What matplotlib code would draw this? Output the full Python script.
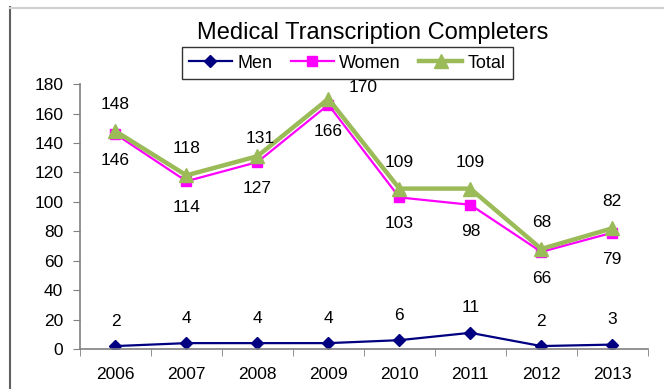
import matplotlib.pyplot as plt
from matplotlib.lines import Line2D
import numpy as np

plt.rcParams["font.family"] = ["Liberation Sans", "DejaVu Sans"]

# Data
years = ["2006", "2007", "2008", "2009", "2010", "2011", "2012", "2013"]
men = [2, 4, 4, 4, 6, 11, 2, 3]
women = [146, 114, 127, 166, 103, 98, 66, 79]
total = [148, 118, 131, 170, 109, 109, 68, 82]

x = np.arange(len(years))

fig = plt.figure(figsize=(6.64, 3.89), dpi=100)
ax = fig.add_axes([0.1205, 0.1028, 0.855, 0.681])

ax.plot(x, men, color="#000080", marker="D", markersize=6, linewidth=1.6, label="Men")
ax.plot(x, women, color="#FF00FF", marker="s", markersize=6.5, linewidth=1.6, label="Women")
ax.plot(x, total, color="#9BBB59", marker="^", markersize=10, linewidth=3.2, label="Total")

# value labels (offsets in points)
lab = dict(ha="center", va="center", fontsize=12.5, textcoords="offset points")
for i, v in enumerate(men):
    ax.annotate(str(v), (x[i], v), xytext=(0, 18), **lab)
for i, v in enumerate(women):
    ax.annotate(str(v), (x[i], v), xytext=(0, -19), **lab)
for i, v in enumerate(total):
    off = (0, 19)
    if years[i] == "2008":
        off = (2, 13)
    if years[i] == "2009":
        off = (25, 8)
    ax.annotate(str(v), (x[i], v), xytext=off, **lab)

ax.set_xlim(-0.5, len(years) - 0.5)
ax.set_ylim(0, 180)
ax.set_yticks(np.arange(0, 181, 20))
ax.set_xticks(x)
ax.set_xticklabels(years)
ax.set_xticks(np.arange(-0.5, len(years)), minor=True)
ax.tick_params(axis="x", which="major", length=0, pad=13, labelsize=12.5)
ax.tick_params(axis="x", which="minor", length=5, color="#808080", direction="out")
ax.tick_params(axis="y", length=5, pad=7, color="#808080", labelsize=12.5)

for s in ["top", "right"]:
    ax.spines[s].set_visible(False)
for s in ["left", "bottom"]:
    ax.spines[s].set_color("#808080")
    ax.spines[s].set_linewidth(1.2)

fig.text(0.562, 0.915, "Medical Transcription Completers", ha="center", va="center", fontsize=17)

leg = fig.legend(loc="center", bbox_to_anchor=(0.523, 0.838), ncol=3, fontsize=13,
                 frameon=True, fancybox=False, edgecolor="black", handlelength=2.4,
                 handletextpad=0.3, columnspacing=1.0, borderpad=0.4, borderaxespad=0)
leg.get_frame().set_linewidth(1.0)

# outer frame lines
fig.add_artist(Line2D([9.5 / 664, 9.5 / 664], [0, 1 - 7 / 389], color="#606060", linewidth=1.5))
fig.add_artist(Line2D([9.5 / 664, 1], [1 - 7.5 / 389, 1 - 7.5 / 389], color="#d0d0d0", linewidth=1.5))

fig.savefig("out.png", dpi=100)
